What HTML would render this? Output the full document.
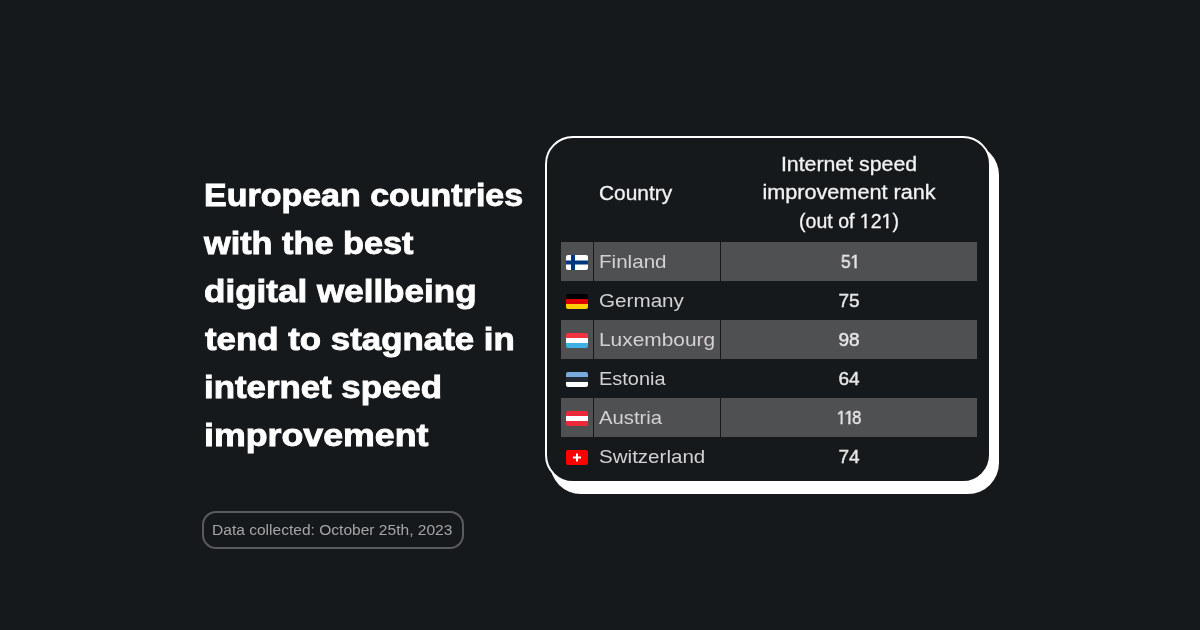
<!DOCTYPE html>
<html><head><meta charset="utf-8">
<style>
*{margin:0;padding:0;box-sizing:border-box}
html,body{width:1200px;height:630px;overflow:hidden;background:#16191c}
body{position:relative;font-family:"Liberation Sans",Arial,sans-serif}
.t{position:absolute;will-change:transform;left:204px;color:#fff;font-weight:700;-webkit-text-stroke:0.9px #fff;font-size:32px;line-height:48px;white-space:nowrap;transform-origin:0 50%}
.badge{position:absolute;left:202px;top:511px;width:262px;height:38px;border:2px solid #5a5b5c;border-radius:14px}
.badge span{position:absolute;will-change:transform;left:8px;top:0;line-height:34px;font-size:14px;color:#a5a5a5;white-space:nowrap;transform-origin:0 50%}
.shadow{position:absolute;left:550px;top:144px;width:449px;height:350px;background:#fff;border-radius:31px}
.card{position:absolute;left:545px;top:136px;width:446px;height:347px;background:#16191c;border:2px solid #fff;border-radius:28px}
.row{position:absolute;left:561px;width:416px;height:39px}
.c{position:absolute;top:0;height:39px;background:#4f5052}
.c1{left:0;width:32px}
.c2{left:33px;width:126px}
.c3{left:160px;width:256px}
.txt{position:absolute;will-change:transform;font-size:19px;line-height:39px;color:#d2d2d2;white-space:nowrap;transform-origin:0 50%}
.name{left:38px}
.num{left:0;width:576px;text-align:center;color:#e6e6e6;-webkit-text-stroke:0.45px #e6e6e6;transform-origin:288px 50%}
.flag{position:absolute;left:5px;top:13px;width:22px;height:15px;display:block}
.hc{left:721px;width:256px;text-align:center;line-height:28.3px;transform-origin:50% 50%!important}
.hd{position:absolute;will-change:transform;color:#f2f2f2;font-size:19.5px;white-space:nowrap;-webkit-text-stroke:0.3px #f2f2f2;transform-origin:0 50%}
.o{display:inline-block;letter-spacing:0;text-indent:0;line-height:19px;height:19px;clip-path:polygon(0 0,100% 0,100% 13.4px,6.9px 13.4px,6.9px 100%,4.4px 100%,4.4px 13.4px,0 13.4px)}
.oh{display:inline-block;letter-spacing:0;text-indent:0;line-height:19.5px;height:19.5px;clip-path:polygon(0 0,100% 0,100% 13.5px,6.95px 13.5px,6.95px 100%,4.5px 100%,4.5px 13.5px,0 13.5px)}
</style></head><body>
<div class="t" style="top:171px;transform:scaleX(1.062)">European countries</div>
<div class="t" style="top:219px;transform:scaleX(1.071)">with the best</div>
<div class="t" style="top:267px;transform:scaleX(1.095)">digital wellbeing</div>
<div class="t" style="top:315px;left:205px;transform:scaleX(1.089)">tend to stagnate in</div>
<div class="t" style="top:363px;transform:scaleX(1.088)">internet speed</div>
<div class="t" style="top:411px;transform:scaleX(1.117)">improvement</div>
<div class="badge"><span style="transform:scaleX(1.111)">Data collected: October 25th, 2023</span></div>
<div class="shadow"></div>
<div class="card"></div>
<div class="hd" style="left:599px;top:182px;transform:scaleX(1.071)">Country</div>
<div class="hd hc" style="top:150px;transform:scaleX(1.092)">Internet speed</div>
<div class="hd hc" style="top:178px;transform:scaleX(1.11)">improvement rank</div>
<div class="hd hc" style="top:207px">(out of <span class="oh">1</span>2<span class="oh">1</span>)</div>

<div class="row" style="top:242px"><div class="c c1"></div><div class="c c2"></div><div class="c c3"></div>
<svg class="flag" viewBox="0 0 22 15"><defs><clipPath id="r"><rect width="22" height="15" rx="2"/></clipPath></defs><g clip-path="url(#r)"><rect width="22" height="15" fill="#fff"/><rect x="5" width="4" height="15" fill="#003580"/><rect y="5.5" width="22" height="4" fill="#003580"/></g></svg>
<div class="txt name" style="transform:scaleX(1.084)">Finland</div><div class="txt num" style="transform:translateX(1.5px) scaleX(0.9)">5<span class="o">1</span></div></div>

<div class="row" style="top:281px">
<svg class="flag" viewBox="0 0 22 15"><g clip-path="url(#r)"><rect width="22" height="5" fill="#000"/><rect y="5" width="22" height="5" fill="#dd0000"/><rect y="10" width="22" height="5" fill="#ffce00"/></g></svg>
<div class="txt name" style="transform:scaleX(1.087)">Germany</div><div class="txt num">75</div></div>

<div class="row" style="top:320px"><div class="c c1"></div><div class="c c2"></div><div class="c c3"></div>
<svg class="flag" viewBox="0 0 22 15"><g clip-path="url(#r)"><rect width="22" height="5" fill="#ef3340"/><rect y="5" width="22" height="5" fill="#fff"/><rect y="10" width="22" height="5" fill="#3fb0e2"/></g></svg>
<div class="txt name" style="transform:scaleX(1.099)">Luxembourg</div><div class="txt num">98</div></div>

<div class="row" style="top:359px">
<svg class="flag" viewBox="0 0 22 15"><g clip-path="url(#r)"><rect width="22" height="5" fill="#78aade"/><rect y="5" width="22" height="5" fill="#222a35"/><rect y="10" width="22" height="5" fill="#fff"/></g></svg>
<div class="txt name" style="transform:scaleX(1.05)">Estonia</div><div class="txt num">64</div></div>

<div class="row" style="top:398px"><div class="c c1"></div><div class="c c2"></div><div class="c c3"></div>
<svg class="flag" viewBox="0 0 22 15"><g clip-path="url(#r)"><rect width="22" height="5" fill="#ed2939"/><rect y="5" width="22" height="5" fill="#fff"/><rect y="10" width="22" height="5" fill="#ed2939"/></g></svg>
<div class="txt name" style="transform:scaleX(1.067)">Austria</div><div class="txt num" style="transform:scaleX(0.86)"><span class="o" style="margin-right:-1.5px">1</span><span class="o" style="margin-right:-1.5px">1</span>8</div></div>

<div class="row" style="top:437px">
<svg class="flag" viewBox="0 0 22 15"><g clip-path="url(#r)"><rect width="22" height="15" fill="#ff0000"/><rect x="10" y="3.5" width="2" height="8" fill="#fff"/><rect x="7" y="6.5" width="8" height="2" fill="#fff"/></g></svg>
<div class="txt name" style="transform:scaleX(1.082)">Switzerland</div><div class="txt num">74</div></div>
</body></html>
